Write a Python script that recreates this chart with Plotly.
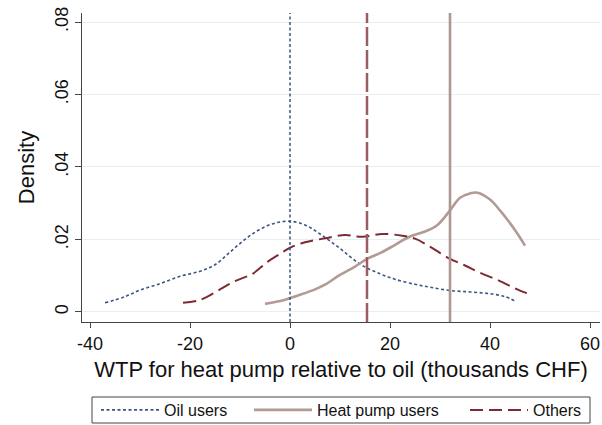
import plotly.graph_objects as go

# ---- data ----
oil_x = [-37, -33, -30, -26, -22, -18, -15, -12, -9, -6, -3, 0, 3, 6, 10, 14, 18, 21, 25, 28, 32, 36, 40, 43, 45]
oil_y = [0.0025, 0.0042, 0.0060, 0.0078, 0.0098, 0.0112, 0.0130, 0.0165, 0.0200, 0.0228, 0.0245, 0.0250,
         0.0240, 0.0215, 0.0175, 0.0132, 0.0105, 0.0090, 0.0076, 0.0068, 0.0059, 0.0055, 0.0050, 0.0042, 0.0030]

hp_x = [-5, -2, 0, 2, 5, 7, 10, 13, 15.5, 18, 20, 24, 27, 29.5, 32, 34, 36, 37.5, 40, 42, 45.4, 47]
hp_y = [0.0022, 0.0030, 0.0038, 0.0047, 0.0062, 0.0075, 0.0102, 0.0125, 0.0147, 0.0162, 0.0177, 0.0208,
        0.0222, 0.0240, 0.0280, 0.0315, 0.0327, 0.0329, 0.0310, 0.0280, 0.0218, 0.0183]

oth_x = [-21.4, -18, -14, -11, -7.5, -4.5, -2, 0, 3, 7, 11, 14.5, 18.5, 22.5, 25, 28, 31.5, 35, 38, 42, 45, 48]
oth_y = [0.0025, 0.0033, 0.0062, 0.0085, 0.0105, 0.0138, 0.0160, 0.0177, 0.0192, 0.0203, 0.0212, 0.0207,
         0.0215, 0.0210, 0.0202, 0.0180, 0.0150, 0.0128, 0.0108, 0.0085, 0.0065, 0.0048]

group_names = ["Oil users", "Heat pump users", "Others"]
group_means = [0, 32, 15.4]

x_ticks = [-40, -20, 0, 20, 40, 60]
x_ticktext = ["-40", "-20", "0", "20", "40", "60"]
y_ticks = [0, 0.02, 0.04, 0.06, 0.08]
y_ticktext = ["0", ".02", ".04", ".06", ".08"]

# ---- styles ----
c_oil = "#3b5683"
c_hp = "#b29b94"
c_oth = "#7d2a33"
c_oth_v = "#9b5c62"

# layout geometry (pixels)
W, H = 602, 425
L, R, T, B = 82, 2, 13, 103
PW, PH = W - L - R, H - T - B


def px_x(p):
    return (p - L) / PW


def px_y(p):
    return (H - B - p) / PH


fig = go.Figure()
fig.add_trace(go.Scatter(x=oil_x, y=oil_y, mode="lines", name=group_names[0], legend="legend",
                         line=dict(color=c_oil, width=1.6, dash="3px,2.5px", shape="spline")))
fig.add_trace(go.Scatter(x=hp_x, y=hp_y, mode="lines", name=group_names[1], legend="legend2",
                         line=dict(color=c_hp, width=2.6, shape="spline")))
fig.add_trace(go.Scatter(x=oth_x, y=oth_y, mode="lines", name=group_names[2], legend="legend3",
                         line=dict(color=c_oth, width=2, dash="13px,6px", shape="spline")))

fig.add_vline(x=group_means[0], line=dict(color=c_oil, width=1.5, dash="3px,2.5px"))
fig.add_vline(x=group_means[2], line=dict(color=c_oth_v, width=2.5, dash="19px,4px"))
fig.add_vline(x=group_means[1], line=dict(color="#ad9791", width=2.6))

# legend frame
fig.add_shape(type="rect", xref="paper", yref="paper",
              x0=px_x(92), x1=px_x(590), y0=px_y(423), y1=px_y(397),
              line=dict(color="#444", width=1), fillcolor="rgba(0,0,0,0)", layer="above")

font_family = "Liberation Sans, Arial, sans-serif"
leg_common = dict(orientation="h", xanchor="left", yanchor="middle", y=px_y(410),
                  borderwidth=0, bgcolor="rgba(0,0,0,0)", font=dict(size=16), itemwidth=58)

fig.update_layout(
    width=W, height=H,
    margin=dict(l=L, r=R, t=T, b=B, autoexpand=False),
    paper_bgcolor="white", plot_bgcolor="white",
    font=dict(family=font_family, color="#111", size=16),
    showlegend=True,
    legend=dict(x=px_x(96), **leg_common),
    legend2=dict(x=px_x(249), **leg_common),
    legend3=dict(x=px_x(465), **leg_common),
    xaxis=dict(range=[-41.6, 62], tickvals=x_ticks, ticktext=x_ticktext, ticks="outside",
               ticklen=5, tickwidth=1.2,
               tickcolor="#444", showline=True, linecolor="#444", linewidth=1.3,
               showgrid=False, zeroline=False, tickfont=dict(size=18), automargin=False,
               title=dict(text="WTP for heat pump relative to oil (thousands CHF)",
                          font=dict(size=22), standoff=8)),
    yaxis=dict(range=[-0.0028, 0.0825], tickvals=y_ticks, ticktext=y_ticktext, tickangle=-90,
               ticks="outside", ticklen=6, tickwidth=1.2, tickcolor="#444",
               showline=True, linecolor="#444", linewidth=1.3,
               showgrid=True, gridcolor="#e6eff1", gridwidth=1, zeroline=False,
               tickfont=dict(size=18), automargin=False,
               title=dict(text="Density", font=dict(size=22), standoff=10)),
)

fig.write_html("out.html")
